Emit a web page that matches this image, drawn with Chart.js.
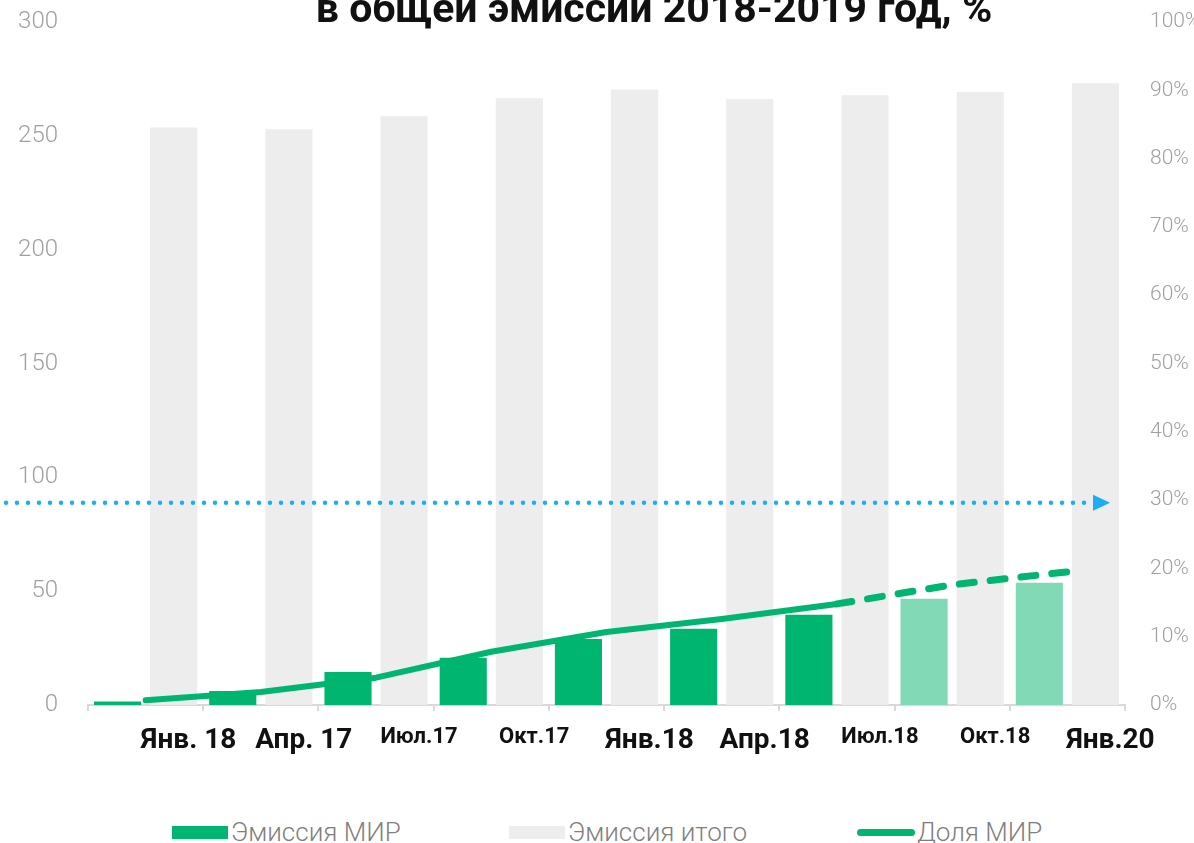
<!DOCTYPE html>
<html lang="ru">
<head>
    <meta charset="UTF-8">
    <title>Доля МИР в общей эмиссии</title>
    <script src="https://cdn.jsdelivr.net/npm/chart.js"></script>
    <style>
        body { margin: 0; background: #fff; font-family: Roboto, sans-serif; }
        #wrap { position: relative; width: 1194px; height: 843px; overflow: hidden; }
        canvas { position: absolute; left: 0; top: 0; }
        #legend { position: absolute; left: 0; top: 818px; width: 1194px; height: 28px; }
        .lg-item { position: absolute; top: 0; display: flex; align-items: center; height: 28px;
                   font-size: 26px; font-weight: 300; color: #7f7f7f; }
        .lg-swatch { width: 56px; height: 13px; margin-right: 3px; }
        .lg-line { width: 58px; height: 7px; border-radius: 4px; margin-right: 2px; }
    </style>
</head>
<body>
<div id="wrap">
    <canvas id="chart" width="1194" height="772"></canvas>
    <div id="legend"></div>
</div>
<script>
    // --- data ---
    const quarters = ['Янв. 18', 'Апр. 17', 'Июл.17', 'Окт.17', 'Янв.18', 'Апр.18', 'Июл.18', 'Окт.18', 'Янв.20'];
    const emissionMir = [1.5, 6.2, 14.5, 20.7, 29, 33.5, 39.6, 46.7, 53.7];
    const emissionTotal = [253.7, 252.9, 258.6, 266.5, 270.3, 266.2, 267.8, 269.2, 273.1];
    const shareMir = [0.7, 1.9, 4.0, 7.8, 10.7, 12.6, 14.8, 17.6, 19.5];
    const forecastFrom = 6;      // index where the forecast (dashed / light) part starts
    const targetShare = 29.6;    // blue arrow level, %
    const titleText = 'в общей эмиссии 2018-2019 год, %';

    const GREEN = '#00b56f';
    const GREEN_LIGHT = '#81d9b6';
    const GRAY = '#ededed';
    const BLUE = '#1aaef5';
    const bigLabels = [0, 1, 4, 5, 8];

    // title is cut off at the top in the source picture, so draw it by hand
    const titlePlugin = {
        id: 'cutTitle',
        afterDraw(chart) {
            const ctx = chart.ctx;
            ctx.save();
            ctx.font = 'bold 41px Roboto, sans-serif';
            ctx.fillStyle = '#111';
            ctx.textAlign = 'center';
            ctx.textBaseline = 'alphabetic';
            ctx.fillText(titleText, 654, 22);
            ctx.restore();
        }
    };

    // dotted target line with arrow head
    const targetPlugin = {
        id: 'targetLine',
        afterDatasetsDraw(chart) {
            const ctx = chart.ctx;
            const y = chart.scales.y1.getPixelForValue(targetShare);
            const xEnd = chart.chartArea.right - 32;
            ctx.save();
            ctx.strokeStyle = BLUE;
            ctx.lineWidth = 4.5;
            ctx.lineCap = 'round';
            ctx.setLineDash([0, 11]);
            ctx.beginPath();
            ctx.moveTo(6, y);
            ctx.lineTo(xEnd - 4, y);
            ctx.stroke();
            ctx.setLineDash([]);
            ctx.fillStyle = BLUE;
            ctx.beginPath();
            ctx.moveTo(xEnd, y - 8);
            ctx.lineTo(xEnd + 17, y);
            ctx.lineTo(xEnd, y + 8);
            ctx.closePath();
            ctx.fill();
            ctx.restore();
        }
    };

    // keep the plot area where the picture has it
    const fixY = (width) => s => { s.width = width; s.paddingTop = 0; s.paddingBottom = 0; };

    const chart = new Chart(document.getElementById('chart'), {
        type: 'bar',
        data: {
            labels: quarters,
            datasets: [
                {
                    label: 'Эмиссия МИР',
                    data: emissionMir,
                    yAxisID: 'y',
                    backgroundColor: emissionMir.map((v, i) => i >= forecastFrom + 1 ? GREEN_LIGHT : GREEN),
                    categoryPercentage: 0.974,
                    barPercentage: 0.84,
                    order: 1
                },
                {
                    label: 'Эмиссия итого',
                    data: emissionTotal,
                    yAxisID: 'y',
                    backgroundColor: GRAY,
                    categoryPercentage: 0.974,
                    barPercentage: 0.84,
                    order: 1
                },
                {
                    type: 'line',
                    label: 'Доля МИР',
                    data: shareMir,
                    yAxisID: 'y1',
                    borderColor: GREEN,
                    backgroundColor: GREEN,
                    borderWidth: 6,
                    borderCapStyle: 'round',
                    borderJoinStyle: 'round',
                    pointRadius: 0,
                    tension: 0,
                    order: 0,
                    segment: {
                        borderDash: ctx => ctx.p0DataIndex >= forecastFrom ? [15, 16] : undefined,
                        borderWidth: ctx => ctx.p0DataIndex >= forecastFrom ? 7 : 6
                    }
                }
            ]
        },
        options: {
            responsive: false,
            animation: false,
            layout: { padding: { top: 22, left: 0, right: 0, bottom: 0 } },
            plugins: {
                legend: { display: false },
                title: { display: false },
                tooltip: { enabled: false }
            },
            scales: {
                x: {
                    grid: { drawOnChartArea: false, drawTicks: true, tickLength: 6, color: '#d9d9d9', lineWidth: 2 },
                    border: { color: '#d9d9d9', width: 2 },
                    ticks: {
                        color: '#111',
                        padding: 13,
                        labelOffset: 43,
                        maxRotation: 0,
                        autoSkip: false,
                        font: ctx => ({
                            family: 'Roboto, sans-serif',
                            weight: 'bold',
                            size: bigLabels.includes(ctx.index) ? 28 : 22
                        })
                    },
                    afterFit: s => { s.height = 67; }
                },
                y: {
                    position: 'left',
                    min: 0, max: 300,
                    grid: { display: false },
                    border: { display: false },
                    ticks: {
                        stepSize: 50,
                        color: '#a0a0a0',
                        padding: 22,
                        font: { family: 'Roboto, sans-serif', weight: 300, size: 24 }
                    },
                    afterFit: fixY(88)
                },
                y1: {
                    position: 'right',
                    min: 0, max: 100,
                    grid: { display: false },
                    border: { display: false },
                    ticks: {
                        stepSize: 10,
                        color: '#a0a0a0',
                        padding: 17,
                        font: { family: 'Roboto, sans-serif', weight: 300, size: 21 },
                        callback: v => v + '%'
                    },
                    afterFit: fixY(69)
                }
            }
        },
        plugins: [titlePlugin, targetPlugin]
    });

    // --- legend (html, built from the datasets) ---
    const legendLeft = [172, 509, 857];
    const legendEl = document.getElementById('legend');
    chart.data.datasets.forEach((ds, i) => {
        const item = document.createElement('div');
        item.className = 'lg-item';
        item.style.left = legendLeft[i] + 'px';
        const sw = document.createElement('span');
        sw.className = ds.type === 'line' ? 'lg-line' : 'lg-swatch';
        sw.style.background = Array.isArray(ds.backgroundColor) ? ds.backgroundColor[0] : (ds.type === 'line' ? ds.borderColor : ds.backgroundColor);
        item.appendChild(sw);
        item.appendChild(document.createTextNode(ds.label));
        legendEl.appendChild(item);
    });
</script>
</body>
</html>
